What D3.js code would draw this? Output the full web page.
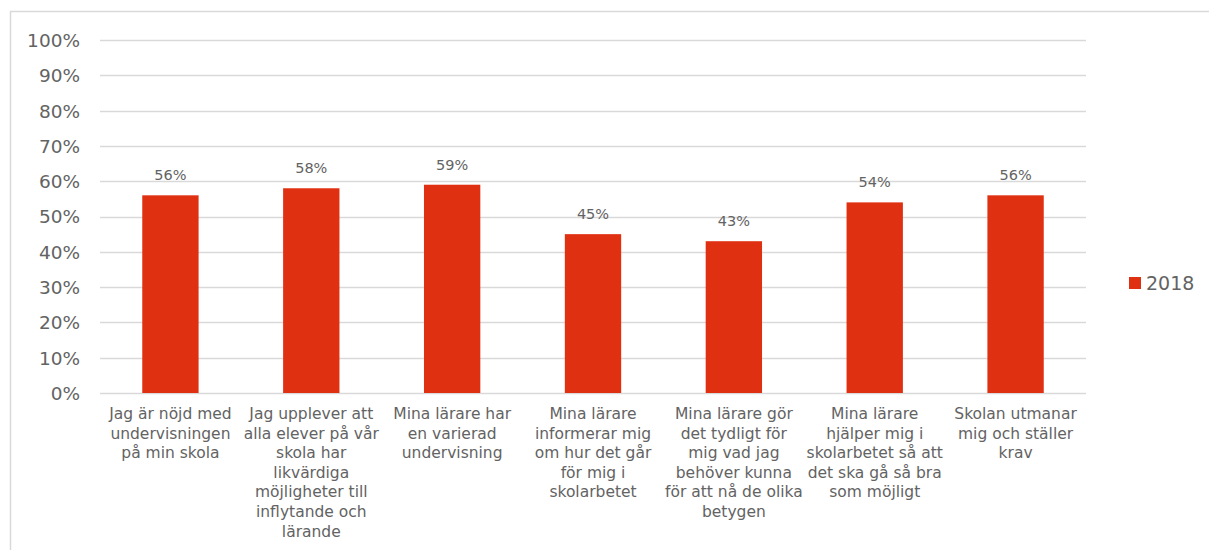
<!DOCTYPE html>
<html><head><meta charset="utf-8">
<script src="https://cdn.jsdelivr.net/npm/d3@7"></script>
<style>
body{margin:0;background:#fff;}
svg text{font-family:"DejaVu Sans","Open Sans",sans-serif;fill:#636363;}
</style></head>
<body>
<svg id="c" width="1209" height="550"></svg>
<script>
const categories = [
  "Jag är nöjd med\nundervisningen\npå min skola",
  "Jag upplever att\nalla elever på vår\nskola har\nlikvärdiga\nmöjligheter till\ninflytande och\nlärande",
  "Mina lärare har\nen varierad\nundervisning",
  "Mina lärare\ninformerar mig\nom hur det går\nför mig i\nskolarbetet",
  "Mina lärare gör\ndet tydligt för\nmig vad jag\nbehöver kunna\nför att nå de olika\nbetygen",
  "Mina lärare\nhjälper mig i\nskolarbetet så att\ndet ska gå så bra\nsom möjligt",
  "Skolan utmanar\nmig och ställer\nkrav"
];
const values2018 = [56, 58, 59, 45, 43, 54, 56];
const yTicks = [0,10,20,30,40,50,60,70,80,90,100];
const seriesName = "2018";

const svg = d3.select("#c");
// frame
svg.append("rect").attr("x",10.5).attr("y",11.5).attr("width",1300).attr("height",600)
  .attr("fill","none").attr("stroke","#d9d9d9").attr("stroke-width",1.5);

const x = d3.scaleBand().domain(d3.range(categories.length)).range([100,1086]).paddingInner(0.6).paddingOuter(0.3);
const y = d3.scaleLinear().domain([0,100]).range([393,40]);

// gridlines
svg.append("g").selectAll("line").data(yTicks).join("line")
  .attr("x1",100).attr("x2",1086)
  .attr("y1",d=>Math.round(y(d))+0.5).attr("y2",d=>Math.round(y(d))+0.5)
  .attr("stroke","#d9d9d9").attr("stroke-width",1.5);

// y axis labels
const yAxis = d3.axisLeft(y).tickValues(yTicks).tickFormat(d=>d+"%").tickSize(0).tickPadding(0);
const ga = svg.append("g").attr("transform","translate(80,0)").call(yAxis);
ga.select(".domain").remove();
ga.selectAll("text").attr("font-size",18.5).attr("fill","#636363")
  .style("font-family","DejaVu Sans, sans-serif").attr("dy","0.35em");

// bars
svg.append("g").selectAll("rect").data(values2018).join("rect")
  .attr("x",(d,i)=>x(i)).attr("width",x.bandwidth())
  .attr("y",d=>y(d)).attr("height",d=>y(0)-y(d))
  .attr("fill","#E03012");

// data labels
svg.append("g").selectAll("text").data(values2018).join("text")
  .attr("x",(d,i)=>x(i)+x.bandwidth()/2).attr("y",d=>y(d)-15)
  .attr("text-anchor","middle").attr("font-size",14.5).text(d=>d+"%");

// category labels
const cg = svg.append("g").selectAll("text").data(categories).join("text")
  .attr("text-anchor","middle").attr("font-size",15.5)
  .attr("transform",(d,i)=>`translate(${x(i)+x.bandwidth()/2},419)`);
cg.selectAll("tspan").data(d=>d.split("\n")).join("tspan")
  .attr("x",0).attr("y",(d,j)=>j*19.6).text(d=>d);

// legend
svg.append("rect").attr("x",1129).attr("y",277).attr("width",12).attr("height",12).attr("fill","#E03012");
svg.append("text").attr("x",1146).attr("y",283).attr("dy","0.35em").attr("font-size",19).text(seriesName);
</script>
</body></html>
